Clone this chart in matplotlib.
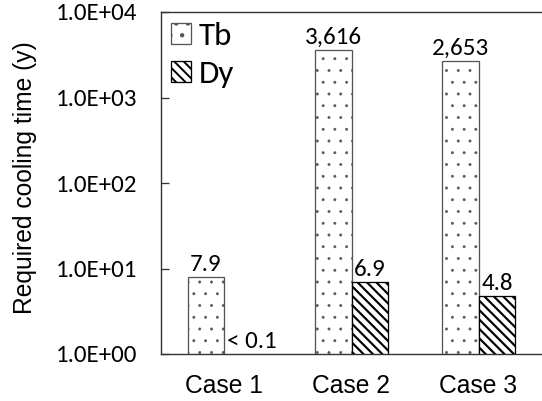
import matplotlib
matplotlib.use("Agg")
import matplotlib.pyplot as plt
import numpy as np

# Datos
cases = ["Case 1", "Case 2", "Case 3"]
tb_values = [7.9, 3616, 2653]
dy_values = [0.1, 6.9, 4.8]
tb_labels = ["7.9", "3,616", "2,653"]
dy_labels = ["< 0.1", "6.9", "4.8"]
y_ticks = [1, 10, 100, 1000, 10000]
y_tick_labels = ["1.0E+00", "1.0E+01", "1.0E+02", "1.0E+03", "1.0E+04"]

DPI = 141
def pt(px):
    # convertir pixeles a puntos
    return px * 72 / DPI

calibri = ["Carlito", "Lato", "DejaVu Sans"]
arial = ["Liberation Sans", "DejaVu Sans"]
fs_num = pt(25)

fig = plt.figure(figsize=(542 / DPI, 401 / DPI), dpi=DPI)
ax = fig.add_axes([161 / 542, 1 - 354 / 401, 1 - 161 / 542, (354 - 12) / 401])

x = np.arange(len(cases))
w = 0.291

with plt.rc_context({"hatch.linewidth": 0.25, "hatch.color": "#555555"}):
    tb_bars = ax.bar(x - w / 2, tb_values, w, color="white", edgecolor="#555555",
                     linewidth=pt(1.3), hatch="..", label="Tb")
with plt.rc_context({"hatch.linewidth": 1.1, "hatch.color": "black"}):
    dy_bars = ax.bar(x + w / 2, dy_values, w, color="white", edgecolor="black",
                     linewidth=pt(1.3), hatch="\\\\\\\\\\", label="Dy")

ax.set_yscale("log")
ax.set_ylim(1, 10000)
ax.set_xlim(-0.5, 2.5)
ax.yaxis.set_major_locator(matplotlib.ticker.FixedLocator(y_ticks))
ax.yaxis.set_major_formatter(matplotlib.ticker.FixedFormatter(y_tick_labels))
ax.yaxis.set_minor_locator(matplotlib.ticker.NullLocator())
ax.set_xticks(x)
ax.set_xticklabels(cases, fontsize=pt(24.6), family=arial)
for lbl in ax.get_yticklabels():
    lbl.set_fontfamily(calibri)
    lbl.set_fontsize(fs_num)

ax.tick_params(axis="y", direction="in", length=pt(8), width=pt(1.3), color="#333333", pad=pt(24))
ax.tick_params(axis="x", length=0, pad=pt(20))

for s in ["left", "bottom", "top"]:
    ax.spines[s].set_linewidth(pt(1.4))
    ax.spines[s].set_color("#333333")
ax.spines["right"].set_visible(False)

ax.set_ylabel("Required cooling time (y)", fontsize=pt(24.6), family=arial)
ax.yaxis.set_label_coords((37 - 161) / 381, 0.515)

# Etiquetas de valores
for xi, v, t in zip(x - w / 2, tb_values, tb_labels):
    ax.annotate(t, (xi, v), xytext=(0, pt(6)), textcoords="offset points",
                ha="center", va="baseline", fontsize=fs_num, family=calibri)
for xi, v, t in zip(x + w / 2, dy_values, dy_labels):
    if v < 1:
        ax.annotate(t, (xi - w / 2, 1), xytext=(pt(3), pt(6)), textcoords="offset points",
                    ha="left", va="baseline", fontsize=fs_num, family=calibri)
    else:
        ax.annotate(t, (xi, v), xytext=(0, pt(6)), textcoords="offset points",
                    ha="center", va="baseline", fontsize=fs_num, family=calibri)

ax.legend(loc="upper left", frameon=False, prop={"family": calibri, "size": pt(33)},
          handlelength=0.6, handleheight=0.6, handletextpad=0.25, labelspacing=0.3,
          borderaxespad=0.2, borderpad=0.1)

fig.savefig("out.png", dpi=DPI)
